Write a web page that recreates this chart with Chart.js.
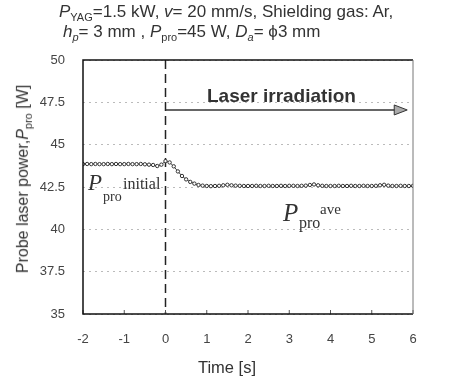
<!DOCTYPE html>
<html>
<head>
<meta charset="utf-8">
<script src="https://cdn.jsdelivr.net/npm/chart.js@4"></script>
<style>
body { margin: 0; background: #fff; }
#wrap { position: relative; width: 465px; height: 381px; font-family: "Liberation Sans", Arial, sans-serif; color: #333; }
#wrap canvas { position: absolute; left: 0; top: 0; }
.t { position: absolute; white-space: nowrap; }
.ser { font-family: "Liberation Serif", "Times New Roman", serif; color: #333; }
sub, sup { font-size: 11px; }
</style>
</head>
<body>
<div id="wrap">
    <canvas id="chart" width="465" height="381"></canvas>
    <div class="t" style="left:59px; top:2px; font-size:17px;"><i>P</i><sub>YAG</sub>=1.5 kW, <i>v</i>= 20 mm/s, Shielding gas: Ar,</div>
    <div class="t" style="left:63px; top:22px; font-size:17px;"><i>h<sub>p</sub></i>= 3 mm , <i>P</i><sub>pro</sub>=45 W, <i>D<sub>a</sub></i>= ϕ3 mm</div>
    <div class="t" style="left:207px; top:85px; font-size:19px; font-weight:bold;">Laser irradiation</div>
    <div class="t ser" style="left:88px; top:170px; font-size:23px; font-style:italic;">P</div>
    <div class="t ser" style="left:103px; top:189px; font-size:14px;">pro</div>
    <div class="t ser" style="left:123px; top:175px; font-size:16px;">initial</div>
    <div class="t ser" style="left:283px; top:199px; font-size:25px; font-style:italic;">P</div>
    <div class="t ser" style="left:299px; top:214px; font-size:16px;">pro</div>
    <div class="t ser" style="left:320px; top:201px; font-size:15px;">ave</div>
    <div class="t" style="left:227px; top:367px; font-size:16.5px; transform:translate(-50%,-50%);">Time [s]</div>
    <div class="t" style="left:24px; top:179px; font-size:16px; transform:translate(-50%,-50%) rotate(-90deg);">Probe laser power,<i>P</i><sub>pro</sub> [W]</div>
</div>
<script>
// time [s]
let times = [
    -2.0, -1.9, -1.8, -1.7, -1.6, -1.5, -1.4, -1.3, -1.2, -1.1, -1.0,
    -0.9, -0.8, -0.7, -0.6, -0.5, -0.4, -0.3, -0.2, -0.1,
    0.0, 0.1, 0.2, 0.3, 0.4, 0.5, 0.6, 0.7, 0.8, 0.9, 1.0,
    1.1, 1.2, 1.3, 1.4, 1.5, 1.6, 1.7, 1.8, 1.9, 2.0,
    2.1, 2.2, 2.3, 2.4, 2.5, 2.6, 2.7, 2.8, 2.9, 3.0,
    3.1, 3.2, 3.3, 3.4, 3.5, 3.6, 3.7, 3.8, 3.9, 4.0,
    4.1, 4.2, 4.3, 4.4, 4.5, 4.6, 4.7, 4.8, 4.9, 5.0,
    5.1, 5.2, 5.3, 5.4, 5.5, 5.6, 5.7, 5.8, 5.9, 6.0
];

// probe laser power [W]
let power = [
    43.85, 43.86, 43.85, 43.86, 43.85, 43.85, 43.86, 43.85, 43.86, 43.85, 43.85,
    43.86, 43.85, 43.85, 43.86, 43.84, 43.82, 43.80, 43.74, 43.82,
    44.03, 43.95, 43.72, 43.42, 43.15, 42.95, 42.80, 42.70, 42.62, 42.58, 42.56,
    42.55, 42.56, 42.57, 42.60, 42.63, 42.60, 42.58, 42.57, 42.56, 42.56,
    42.56, 42.57, 42.56, 42.56, 42.57, 42.56, 42.56, 42.57, 42.56, 42.57,
    42.57, 42.56, 42.57, 42.58, 42.62, 42.65, 42.60, 42.57, 42.56, 42.56,
    42.56, 42.57, 42.56, 42.56, 42.57, 42.56, 42.56, 42.57, 42.56, 42.56,
    42.57, 42.60, 42.63, 42.58, 42.56, 42.56, 42.57, 42.56, 42.56, 42.57
];

let xTicks = [-2, -1, 0, 1, 2, 3, 4, 5, 6];
let yTicks = [35, 37.5, 40, 42.5, 45, 47.5, 50];

// irradiation arrow (time span, power level)
let arrowSpan = [0, 5.86];
let arrowLevel = 47.05;

let points = times.map((t, i) => ({x: t, y: power[i]}));

// frame, start line, ticks and arrow
let decor = {
    id: "decor",
    beforeDatasetsDraw(chart) {
        let ctx = chart.ctx;
        let a = chart.chartArea;
        let xs = chart.scales.x;
        let ys = chart.scales.y;
        ctx.save();

        // laser on at t = 0
        let x0 = xs.getPixelForValue(0);
        ctx.strokeStyle = "#222";
        ctx.lineWidth = 1.5;
        ctx.setLineDash([9, 5]);
        ctx.beginPath();
        ctx.moveTo(x0, a.top);
        ctx.lineTo(x0, a.bottom);
        ctx.stroke();
        ctx.setLineDash([]);

        // arrow
        let ay = ys.getPixelForValue(arrowLevel);
        let ax1 = xs.getPixelForValue(arrowSpan[0]);
        let ax2 = xs.getPixelForValue(arrowSpan[1]);
        ctx.strokeStyle = "#333";
        ctx.lineWidth = 1.5;
        ctx.beginPath();
        ctx.moveTo(ax1, ay);
        ctx.lineTo(ax2 - 10, ay);
        ctx.stroke();
        ctx.fillStyle = "#aaa";
        ctx.lineWidth = 1;
        ctx.beginPath();
        ctx.moveTo(ax2, ay);
        ctx.lineTo(ax2 - 13, ay - 5);
        ctx.lineTo(ax2 - 13, ay + 5);
        ctx.closePath();
        ctx.fill();
        ctx.stroke();

        // inner ticks on time axis
        ctx.strokeStyle = "#555";
        ctx.lineWidth = 1;
        xTicks.forEach(v => {
            let px = xs.getPixelForValue(v);
            ctx.beginPath();
            ctx.moveTo(px, a.bottom);
            ctx.lineTo(px, a.bottom - 4);
            ctx.stroke();
        });
        ctx.restore();
    },
    afterDatasetsDraw(chart) {
        let ctx = chart.ctx;
        let a = chart.chartArea;
        ctx.save();
        ctx.lineWidth = 1.5;
        ctx.strokeStyle = "#111";
        ctx.beginPath();
        ctx.moveTo(a.right, a.top);
        ctx.lineTo(a.left, a.top);
        ctx.lineTo(a.left, a.bottom);
        ctx.lineTo(a.right, a.bottom);
        ctx.stroke();
        ctx.strokeStyle = "#777";
        ctx.lineWidth = 1;
        ctx.beginPath();
        ctx.moveTo(a.right, a.top);
        ctx.lineTo(a.right, a.bottom);
        ctx.stroke();
        ctx.restore();
    }
};

new Chart(document.getElementById("chart"), {
    type: "scatter",
    data: {
        datasets: [{
            data: points,
            showLine: true,
            borderColor: "#444",
            borderWidth: 1,
            pointRadius: 1.7,
            pointBorderWidth: 1,
            pointBorderColor: "#333",
            pointBackgroundColor: "#fff"
        }]
    },
    options: {
        responsive: false,
        animation: false,
        layout: { padding: { top: 60, right: 52, left: 0, bottom: 0 } },
        plugins: { legend: { display: false }, tooltip: { enabled: false } },
        scales: {
            x: {
                type: "linear",
                min: -2, max: 6,
                afterBuildTicks: s => { s.ticks = xTicks.map(v => ({value: v})); },
                afterFit: s => { s.height = 67; },
                grid: { display: false, drawTicks: false },
                border: { display: false },
                ticks: { padding: 18, color: "#444", font: { family: "Liberation Sans", size: 13 } }
            },
            y: {
                min: 35, max: 50,
                afterBuildTicks: s => { s.ticks = yTicks.map(v => ({value: v})); },
                afterFit: s => { s.width = 83; },
                grid: { color: "#bbb", lineWidth: 1, drawTicks: false },
                border: { display: false, dash: [2, 4] },
                ticks: { padding: 18, color: "#444", font: { family: "Liberation Sans", size: 13 } }
            }
        }
    },
    plugins: [decor]
});
</script>
</body>
</html>
